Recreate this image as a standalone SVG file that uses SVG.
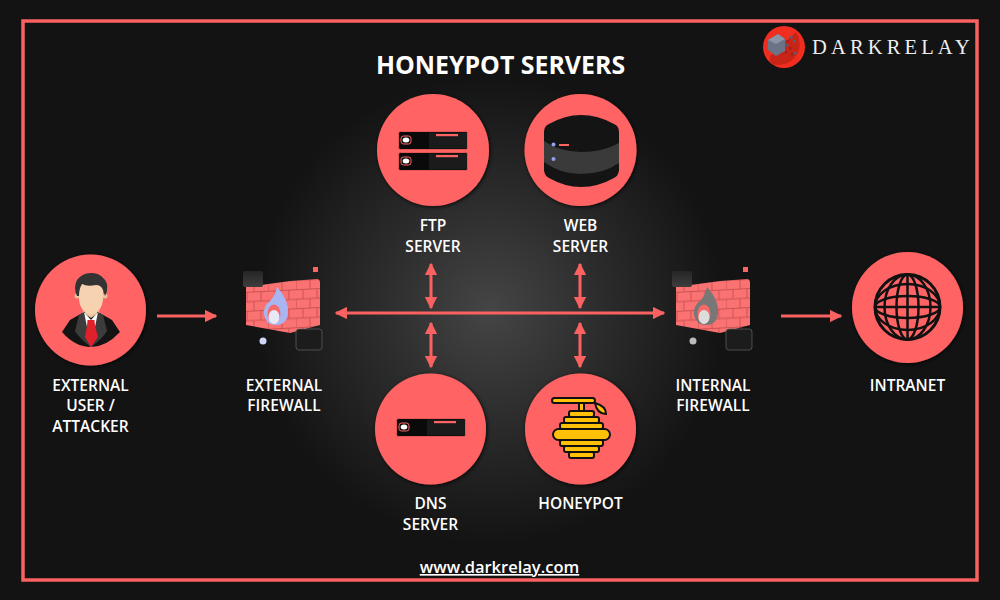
<svg xmlns="http://www.w3.org/2000/svg" width="1000" height="600" viewBox="0 0 1000 600">
<style>
.lbl{font-family:"Open Sans","Liberation Sans",sans-serif;font-weight:600;font-size:15.5px;fill:#fff;text-anchor:middle}
.disc{fill:#ff6464;filter:url(#sh)}
.conn{stroke:#fa6262;stroke-width:3;fill:none}
.hy{fill:#ffc107;stroke:#111;stroke-width:2}
</style>
<defs>
<radialGradient id="glow" gradientUnits="userSpaceOnUse" cx="490" cy="310" r="235">
<stop offset="0" stop-color="#454545"/><stop offset=".45" stop-color="#2d2d2d"/><stop offset="1" stop-color="#131313"/>
</radialGradient>
<linearGradient id="glass" x1="0" y1="0" x2="0" y2="1"><stop offset="0" stop-color="#262626"/><stop offset="1" stop-color="#3d3d3d"/></linearGradient>
<filter id="sh" x="-20%" y="-20%" width="140%" height="140%"><feDropShadow dx="1" dy="1" stdDeviation="2" flood-color="#000" flood-opacity=".8"/></filter>
<filter id="b1" x="-20%" y="-20%" width="140%" height="140%"><feGaussianBlur stdDeviation=".5"/></filter>
<marker id="ah" viewBox="0 0 10 10" refX="9" refY="5" markerWidth="4.2" markerHeight="4.2" orient="auto-start-reverse"><path d="M0 0L10 5L0 10z" fill="#fa6262"/></marker>
<pattern id="brick" width="28" height="19" patternUnits="userSpaceOnUse" patternTransform="translate(246 284) skewY(-3)">
<rect width="28" height="19" fill="#fb7272"/>
<path d="M0 .5H28M0 10H28M7 0V10M21 0V10M14 10V19M0 10V19" stroke="#cc5252" stroke-width="1" fill="none"/>
</pattern>
<path id="wall" d="M0 7L44 1L71 -1Q74 -1 74 3V45L44 53L0 45Z" fill="url(#brick)"/>
<g id="srv">
<rect x="-34.500" y="-9.500" width="69" height="18" rx="2" fill="#0a0a0a" stroke="#e75555" stroke-width="1"/>
<rect x="-4" y="-8.500" width="38" height="16" fill="#1b1b1b"/>
<rect x="-32" y="-5" width="10" height="8" rx="2.500" fill="#111" stroke="#ff6464" stroke-width="1"/>
<ellipse cx="-27" cy="-1" rx="3.300" ry="2.500" fill="#fff"/>
<rect x="3" y="-7" width="22" height="2.200" fill="#ff6464"/>
</g>
</defs>
<rect width="1000" height="600" fill="#131313"/>
<circle cx="490" cy="310" r="235" fill="url(#glow)"/>
<rect x="23" y="21" width="954" height="559" fill="none" stroke="#fa6262" stroke-width="3.500"/>
<text x="500.500" y="74" font-family="'Open Sans','Liberation Sans',sans-serif" font-weight="700" font-size="24.900" fill="#fff" text-anchor="middle">HONEYPOT SERVERS</text>
<g id="logo">
<circle cx="784" cy="47" r="21" fill="#f02d1e"/>
<path d="M770 56L796 32A21 21 0 0 1 770 63Z" fill="#c92418"/>
<path d="M768 40L778 34L785 39L785 51L776 56L768 50Z" fill="#6a7486"/>
<path d="M768 40L778 34L785 39L776 44Z" fill="#8b95a7"/>
<g fill="#56606f"><rect x="790" y="36" width="2.500" height="2.500"/><rect x="793" y="40" width="2.500" height="2.500"/><rect x="786" y="44" width="2.500" height="2.500"/><rect x="794" y="52" width="2.500" height="2.500"/></g>
<g fill="#a3201a"><rect x="786" y="40" width="2.500" height="2.500"/><rect x="789" y="47" width="2.500" height="2.500"/><rect x="785" y="51" width="2.500" height="2.500"/><rect x="791" y="53" width="2.500" height="2.500"/></g>
<text x="812" y="54" font-family="'Liberation Serif',serif" font-size="20.500" letter-spacing="4.150" fill="#eee">DARKRELAY</text>
</g>
<g id="connectors">
<path class="conn" marker-end="url(#ah)" d="M157 316H216"/>
<path class="conn" marker-end="url(#ah)" d="M781 316H841"/>
<path class="conn" marker-start="url(#ah)" marker-end="url(#ah)" d="M336 313H664"/>
<path class="conn" marker-start="url(#ah)" marker-end="url(#ah)" d="M431 264V308"/>
<path class="conn" marker-start="url(#ah)" marker-end="url(#ah)" d="M580 264V308"/>
<path class="conn" marker-start="url(#ah)" marker-end="url(#ah)" d="M431 323V367"/>
<path class="conn" marker-start="url(#ah)" marker-end="url(#ah)" d="M580 323V367"/>
</g>
<g id="user">
<circle class="disc" cx="90.500" cy="310" r="55.500"/>
<path d="M62 332L70 320L84 312H98L112 320L120 332Q106 347 91 347Q75 347 62 332Z" fill="#141414"/>
<path d="M83 311L91 320L99 311L102 330L91 347L80 330Z" fill="#fff"/>
<path d="M79 315L84 312L91 347Q80 339 75 331Z M103 315L98 312L91 347Q102 339 107 331Z" fill="#3c3c3c"/>
<path d="M87.500 320H94.500L95 326L98 337L91 347L85 337L87 326Z" fill="#e0202a"/>
<circle cx="77" cy="296" r="2.500" fill="#e8c3a0"/><circle cx="105" cy="296" r="2.500" fill="#e8c3a0"/>
<path d="M85 306H97V314L91 318L85 314Z" fill="#e8c3a0"/>
<path d="M79 289Q79 283 84 283H98Q103 283 103 289V300Q102 312 91 315Q80 312 79 300Z" fill="#f6d2b0"/>
<path d="M77 296Q73 288 77 280Q83 272 93 273Q103 274 107 284Q108 291 105 296L103 290Q101 285 96 285Q87 287 82 284Q79 289 79 296Z" fill="#333"/>
</g>
<g id="ext-firewall">
<use href="#wall" x="246" y="280"/>
<path d="M277 287Q289 300 288 313Q287 325 276 325Q266 325 264 315Q263 306 270 301Q275 296 277 287Z" fill="#a8b5f0"/>
<ellipse cx="274" cy="314" rx="6.500" ry="9.500" fill="#f66a6a"/>
<ellipse cx="274" cy="317" rx="5.500" ry="7" fill="#e8e8f6"/>
<rect x="243" y="271" width="20" height="16" rx="2" fill="url(#glass)" filter="url(#b1)"/>
<rect x="296" y="329" width="26" height="21" rx="3" fill="#1c1c1c" stroke="#666" stroke-width=".7"/>
<rect x="313" y="267" width="5" height="5" fill="#ff6464"/>
<circle cx="263" cy="341" r="3.500" fill="#d0d6f5"/>
</g>
<g id="ftp">
<circle class="disc" cx="433" cy="150" r="56"/>
<use href="#srv" x="433" y="141"/>
<use href="#srv" x="433" y="162"/>
<text class="lbl" x="433" y="231">FTP</text>
<text class="lbl" x="433" y="252">SERVER</text>
</g>
<g id="web">
<circle class="disc" cx="580.500" cy="150" r="56"/>
<path d="M544 132Q544 126 549 124Q565 115 581 115Q598 115 614 124Q619 126 619 132V170Q619 175 614 178Q598 187 581 187Q565 187 549 178Q544 175 544 170Z" fill="#141414"/>
<path d="M544 141Q560 152 581 152Q603 152 619 143V163Q603 174 581 174Q560 174 544 162Z" fill="#3a3a3a"/>
<circle cx="553.500" cy="144.500" r="2" fill="#8ea2f0"/>
<circle cx="553.500" cy="159" r="2" fill="#8ea2f0"/>
<rect x="559" y="144" width="10" height="2" fill="#ff6464"/>
<text class="lbl" x="580.500" y="231">WEB</text>
<text class="lbl" x="580.500" y="252">SERVER</text>
</g>
<g id="dns">
<circle class="disc" cx="430.500" cy="429" r="55.500"/>
<use href="#srv" x="431" y="428"/>
<text class="lbl" x="430.500" y="509">DNS</text>
<text class="lbl" x="430.500" y="530">SERVER</text>
</g>
<g id="honeypot">
<circle class="disc" cx="580.500" cy="429" r="55.500"/>
<rect class="hy" x="552" y="398" width="43" height="5" rx="2.500"/>
<rect class="hy" x="579" y="403" width="5" height="8"/>
<path d="M595 403Q606 406 606 414Q597 414 595 403Z" fill="#ffc107" stroke="#111" stroke-width="2"/>
<rect class="hy" x="569" y="411" width="25" height="6" rx="2"/>
<rect class="hy" x="564" y="417" width="35" height="6" rx="2"/>
<rect class="hy" x="560" y="423" width="43" height="6" rx="2"/>
<rect class="hy" x="553" y="429" width="57" height="11" rx="5.500"/>
<rect class="hy" x="560" y="440" width="43" height="6" rx="2"/>
<rect class="hy" x="564" y="446" width="35" height="6" rx="2"/>
<rect class="hy" x="569" y="452" width="25" height="6" rx="2"/>
<text class="lbl" x="580.500" y="509">HONEYPOT</text>
</g>
<g id="int-firewall">
<use href="#wall" x="676" y="280"/>
<path d="M707 287Q719 300 718 313Q717 325 706 325Q696 325 694 315Q693 306 700 301Q705 296 707 287Z" fill="#777"/>
<ellipse cx="704" cy="314" rx="6.500" ry="9.500" fill="#f66a6a"/>
<ellipse cx="704" cy="317" rx="5.500" ry="7" fill="#ddd"/>
<rect x="672" y="271" width="20" height="16" rx="2" fill="url(#glass)" filter="url(#b1)"/>
<rect x="726" y="329" width="26" height="21" rx="3" fill="#1c1c1c" stroke="#666" stroke-width=".7"/>
<rect x="743" y="267" width="5" height="5" fill="#ff6464"/>
<circle cx="693" cy="341" r="3.500" fill="#bbb"/>
</g>
<g id="intranet">
<circle class="disc" cx="907.500" cy="307.500" r="55.500"/>
<g fill="none" stroke="#111" stroke-width="2.500">
<circle cx="907.500" cy="307" r="32.500" stroke-width="3"/>
<ellipse cx="907.500" cy="307" rx="11" ry="32.500"/>
<ellipse cx="907.500" cy="307" rx="23" ry="32.500"/>
<ellipse cx="907.500" cy="307" rx="32.500" ry="11"/>
<ellipse cx="907.500" cy="307" rx="32.500" ry="23"/>
<path d="M907.500 274.500V339.500M875 307H940"/>
</g>
</g>
<g id="labels">
<text class="lbl" x="90.500" y="391">EXTERNAL</text>
<text class="lbl" x="90.500" y="411">USER /</text>
<text class="lbl" x="90.500" y="432">ATTACKER</text>
<text class="lbl" x="284" y="391">EXTERNAL</text>
<text class="lbl" x="284" y="411">FIREWALL</text>
<text class="lbl" x="713" y="391">INTERNAL</text>
<text class="lbl" x="713" y="411">FIREWALL</text>
<text class="lbl" x="907.500" y="391">INTRANET</text>
</g>
<text x="499.500" y="573" font-family="'Open Sans','Liberation Sans',sans-serif" font-weight="600" font-size="16.500" fill="#fff" text-anchor="middle" text-decoration="underline">www.darkrelay.com</text>
</svg>
